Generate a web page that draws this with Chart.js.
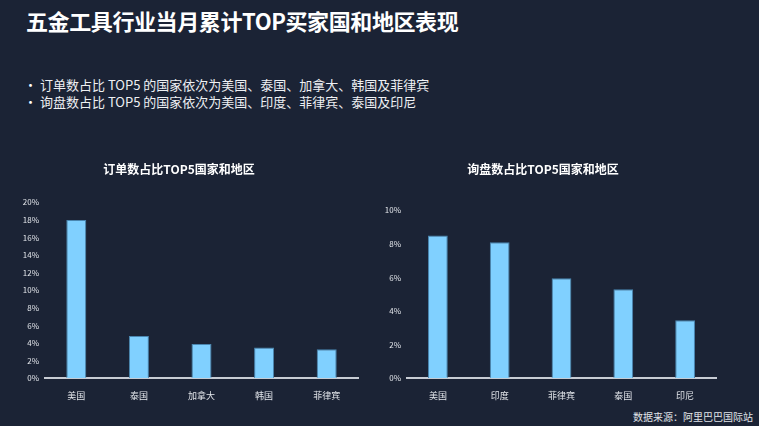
<!DOCTYPE html>
<html>
<head>
<meta charset="utf-8">
<script src="https://cdn.jsdelivr.net/npm/chart.js@4/dist/chart.umd.min.js"></script>
<style>
  body { margin: 0; background: #1b2335; width: 759px; height: 426px; overflow: hidden; position: relative;
         font-family: "Noto Sans CJK SC", "Noto Sans", sans-serif; color: #fff; }
  h1 { position: absolute; left: 26px; top: 4px; margin: 0; font-size: 22px; font-weight: bold; letter-spacing: -0.4px; }
  ul { position: absolute; left: 24px; top: 76px; margin: 0; padding: 0; list-style: none; font-size: 13px; line-height: 17px; color: #eef0f3; }
  li { padding-left: 16px; position: relative; }
  li::before { content: '•'; position: absolute; left: 0; top: 0; color: #fff; }
  .src { position: absolute; right: 6px; top: 409px; font-size: 10px; color: #e0e3e8; }
  canvas { position: absolute; }
  #c1 { left: 0; top: 154px; }
  #c2 { left: 370px; top: 154px; }
</style>
</head>
<body>
<h1>五金工具行业当月累计TOP买家国和地区表现</h1>
<ul>
  <li>订单数占比 TOP5 的国家依次为美国、泰国、加拿大、韩国及菲律宾</li>
  <li>询盘数占比 TOP5 的国家依次为美国、印度、菲律宾、泰国及印尼</li>
</ul>
<div class="src">数据来源：阿里巴巴国际站</div>
<canvas id="c1" width="380" height="260"></canvas>
<canvas id="c2" width="389" height="260"></canvas>
<script>
// 订单数占比
const orderCountries = ['美国', '泰国', '加拿大', '韩国', '菲律宾'];
const orderShare = [18.0, 4.8, 3.9, 3.5, 3.3];
// 询盘数占比
const inquiryCountries = ['美国', '印度', '菲律宾', '泰国', '印尼'];
const inquiryShare = [8.5, 8.1, 5.95, 5.3, 3.45];

const barColor = '#80d0ff';
const tickColor = '#e2e5ea';
const font = "'Noto Sans CJK SC', 'Noto Sans', sans-serif";

function makeChart(id, labels, values, title, yMax, yStep, yWidth, padRight, titleGap) {
    const ctx = document.getElementById(id).getContext('2d');
    return new Chart(ctx, {
        type: 'bar',
        data: {
            labels: labels,
            datasets: [{
                data: values,
                backgroundColor: barColor,
                borderColor: '#4a86b0',
                borderWidth: { left: 1, right: 1, top: 1, bottom: 0 },
                barPercentage: 0.64,
                categoryPercentage: 0.5
            }]
        },
        options: {
            responsive: false,
            animation: false,
            layout: { padding: { left: 0, right: padRight, top: 8, bottom: 1 } },
            plugins: {
                legend: { display: false },
                tooltip: { enabled: false },
                title: {
                    display: true,
                    text: title,
                    color: '#ffffff',
                    font: { family: font, size: 12, weight: 'bold' },
                    padding: { top: 0, bottom: titleGap }
                }
            },
            scales: {
                x: {
                    grid: { display: false, drawTicks: false },
                    border: { display: true, color: '#c8ccd4', width: 2 },
                    ticks: { color: tickColor, font: { family: font, size: 9 }, padding: 12 }
                },
                y: {
                    min: 0,
                    max: yMax,
                    grid: { display: false, drawTicks: false },
                    border: { display: false },
                    afterFit: s => { s.width = yWidth; },
                    ticks: {
                        stepSize: yStep,
                        color: tickColor,
                        font: { family: font, size: 8 },
                        padding: 6,
                        callback: v => v + '%'
                    }
                }
            }
        }
    });
}

makeChart('c1', orderCountries, orderShare, '订单数占比TOP5国家和地区', 20, 2, 45, 22, 26);
makeChart('c2', inquiryCountries, inquiryShare, '询盘数占比TOP5国家和地区', 10, 2, 37, 43, 34);
</script>
</body>
</html>
